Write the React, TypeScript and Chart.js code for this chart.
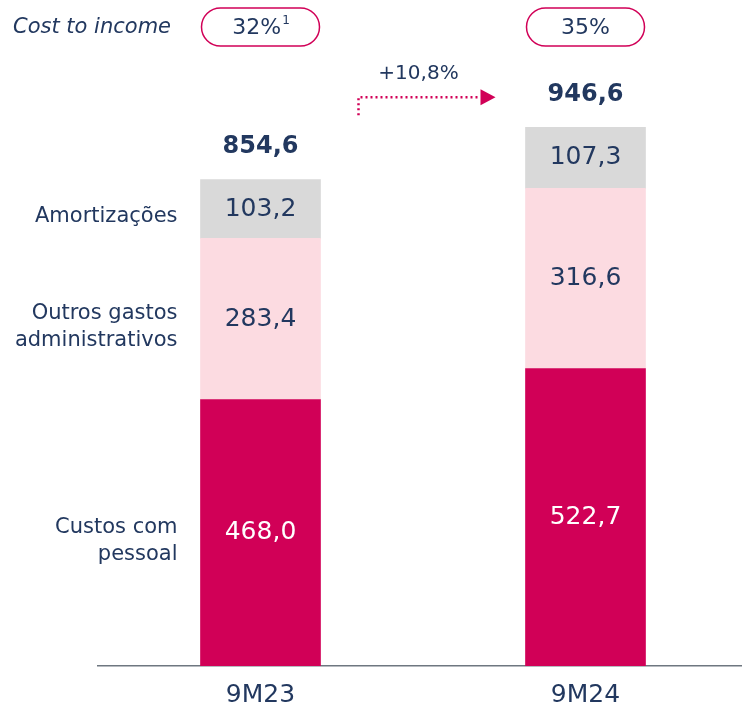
import React, { useEffect, useRef } from "react";
import { Chart, registerables } from "chart.js";

Chart.register(...registerables);

const categories = ["9M23", "9M24"];
const seriesNames = ["Custos com pessoal", "Outros gastos administrativos", "Amortizações"];
const custosPessoal = [468.0, 522.7];
const outrosGastos = [283.4, 316.6];
const amortizacoes = [103.2, 107.3];
const totals = [854.6, 946.6];
const costToIncome = ["32%", "35%"];
const costToIncomeNote = ["1", ""];
const growthLabel = "+10,8%";
const leftLabels = [["Custos com", "pessoal"], ["Outros gastos", "administrativos"], ["Amortizações"]];

const NAVY = "#22385f";
const MAGENTA = "#d10057";
const PINK = "#fcdbe1";
const GRAY = "#d9d9d9";
const FONT = "'DejaVu Sans', sans-serif";

const fmt = (v: number) => v.toFixed(1).replace(".", ",");

const overlay = {
  id: "overlay",
  afterDatasetsDraw(chart: any) {
    const ctx = chart.ctx as CanvasRenderingContext2D;
    ctx.save();
    ctx.textBaseline = "middle";
    chart.data.datasets.forEach((ds: any, di: number) => {
      const meta = chart.getDatasetMeta(di);
      meta.data.forEach((bar: any, i: number) => {
        const cy = (bar.y + bar.base) / 2;
        ctx.font = `25px ${FONT}`;
        ctx.textAlign = "center";
        ctx.fillStyle = di === 0 ? "#ffffff" : NAVY;
        ctx.fillText(fmt(ds.data[i]), bar.x, cy);
      });
    });
    const topMeta = chart.getDatasetMeta(chart.data.datasets.length - 1);
    topMeta.data.forEach((bar: any, i: number) => {
      ctx.font = `bold 24px ${FONT}`;
      ctx.textAlign = "center";
      ctx.fillStyle = NAVY;
      ctx.fillText(fmt(totals[i]), bar.x, bar.y - 33);
    });
    chart.data.datasets.forEach((ds: any, di: number) => {
      const bar: any = chart.getDatasetMeta(di).data[0];
      const cy = (bar.y + bar.base) / 2 + 8;
      const lines = leftLabels[di];
      const lh = 27;
      ctx.font = `21px ${FONT}`;
      ctx.textAlign = "right";
      ctx.fillStyle = NAVY;
      lines.forEach((ln, k) => {
        ctx.fillText(ln, bar.x - 83, cy + (k - (lines.length - 1) / 2) * lh);
      });
    });
    ctx.font = `italic 21px ${FONT}`;
    ctx.textAlign = "left";
    ctx.fillStyle = NAVY;
    ctx.fillText("Cost to income", 13, 28);
    topMeta.data.forEach((bar: any, i: number) => {
      const w = 118, h = 38, x = bar.x - w / 2, y = 8, r = 19;
      ctx.beginPath();
      ctx.roundRect(x, y, w, h, r);
      ctx.strokeStyle = MAGENTA;
      ctx.lineWidth = 1.5;
      ctx.stroke();
      ctx.fillStyle = NAVY;
      const t = costToIncome[i];
      const note = costToIncomeNote[i];
      ctx.font = `22px ${FONT}`;
      const tw = ctx.measureText(t).width;
      ctx.font = `12px ${FONT}`;
      const nw = note ? ctx.measureText(note).width : 0;
      const sx = bar.x - (tw + nw) / 2;
      ctx.textAlign = "left";
      ctx.font = `22px ${FONT}`;
      ctx.fillText(t, sx, 28);
      if (note) {
        ctx.font = `12px ${FONT}`;
        ctx.fillText(note, sx + tw + 1, 21);
      }
    });
    const b0: any = topMeta.data[0];
    const b1: any = topMeta.data[1];
    const ax = b0.x + 98;
    const ay = b1.y - 30;
    ctx.strokeStyle = MAGENTA;
    ctx.lineWidth = 2.5;
    ctx.setLineDash([2, 3]);
    ctx.beginPath();
    ctx.moveTo(ax, ay + 18);
    ctx.lineTo(ax, ay);
    ctx.lineTo(b1.x - 105, ay);
    ctx.stroke();
    ctx.setLineDash([]);
    ctx.fillStyle = MAGENTA;
    ctx.beginPath();
    ctx.moveTo(b1.x - 105, ay - 8);
    ctx.lineTo(b1.x - 90, ay);
    ctx.lineTo(b1.x - 105, ay + 8);
    ctx.closePath();
    ctx.fill();
    ctx.font = `20px ${FONT}`;
    ctx.textAlign = "center";
    ctx.fillStyle = NAVY;
    ctx.fillText(growthLabel, ax + 60, ay - 24);
    ctx.restore();
  },
};

export default function App() {
  const ref = useRef<HTMLCanvasElement>(null);
  useEffect(() => {
    if (!ref.current) return;
    const chart = new Chart(ref.current, {
      type: "bar",
      data: {
        labels: categories,
        datasets: [
          { label: seriesNames[0], data: custosPessoal, backgroundColor: MAGENTA, barThickness: 120 },
          { label: seriesNames[1], data: outrosGastos, backgroundColor: PINK, barThickness: 120 },
          { label: seriesNames[2], data: amortizacoes, backgroundColor: GRAY, barThickness: 120 },
        ],
      },
      options: {
        responsive: false,
        animation: false,
        layout: { padding: { left: 98, right: 0, top: 40, bottom: -16 } },
        plugins: { legend: { display: false }, tooltip: { enabled: false } },
        scales: {
          x: {
            stacked: true,
            grid: { display: false, drawTicks: false },
            border: { display: true, color: "#6e7780", width: 1.5 },
            ticks: { color: NAVY, font: { family: FONT, size: 25 }, padding: 14 },
          },
          y: { stacked: true, display: false, min: 0, max: 1100 },
        },
      },
      plugins: [overlay],
    });
    return () => chart.destroy();
  }, []);
  return (
    <div style={{ position: "fixed", left: 0, top: 0, width: 742, height: 708, overflow: "hidden", background: "#fff" }}>
      <canvas ref={ref} width={748} height={708} />
    </div>
  );
}
